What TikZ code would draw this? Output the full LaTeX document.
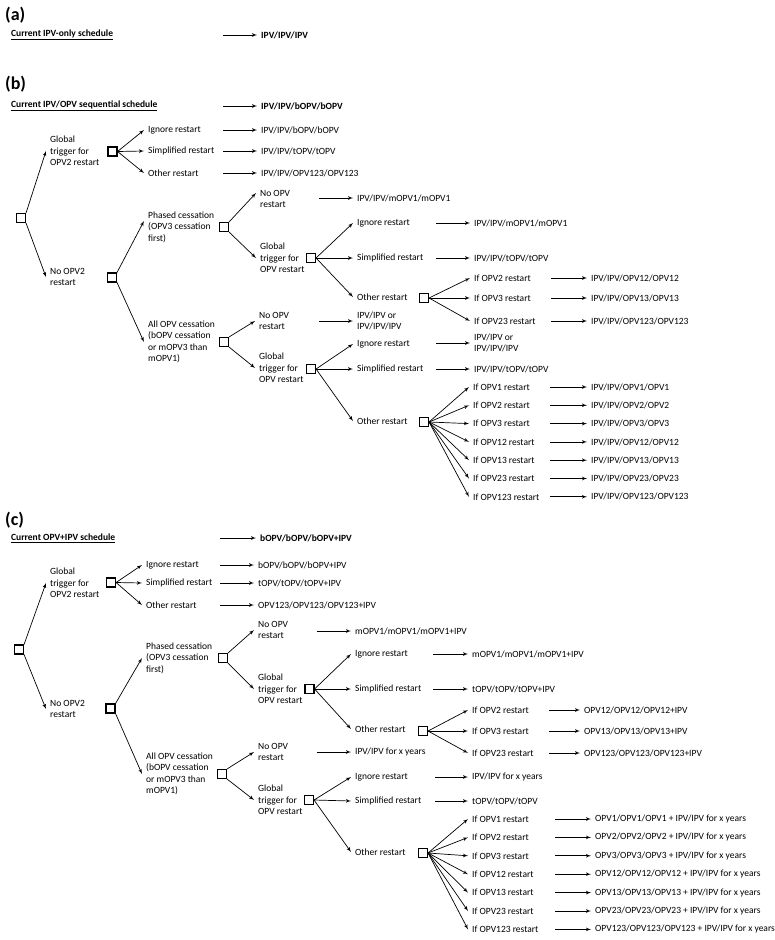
\documentclass[tikz,border=0pt]{standalone}
\usepackage{fontspec}
\setmainfont{Carlito}
\usepackage{tikz}
\usetikzlibrary{arrows}
\tikzstyle{line} = [draw, -latex', line width=0.7pt]
\tikzstyle{choice} = [rectangle, draw, minimum size=9pt, inner sep=0pt, line width=1.1pt]
\tikzstyle{lbl} = [anchor=west, align=left, inner xsep=4pt, inner ysep=1pt, font=\fontsize{9.5}{11.5}\selectfont]
\tikzstyle{head} = [lbl, font=\bfseries\fontsize{9.5}{11.5}\selectfont]
\tikzstyle{part} = [anchor=west, inner sep=0pt, font=\bfseries\fontsize{18}{18}\selectfont]

\begin{document}
\begin{tikzpicture}[x=1pt, y=-1pt]
			\useasboundingbox (0,0) rectangle (775,940);

			\node [part] (a_tag) at (5,15) {(a)};
			\node [head] (a_cur) at (7,35) {\underline{Current IPV-only schedule}};
			\node [head] (a_cur_r) at (257,35) {IPV/IPV/IPV};
			\path [line] ([xshift=-34pt]a_cur_r.west) to (a_cur_r.west);

			\node [part] (b_tag) at (5,84) {(b)};
			\node [head] (b_cur) at (7,106) {\underline{Current IPV/OPV sequential schedule}};
			\node [head] (b_cur_r) at (257,106) {IPV/IPV/bOPV/bOPV};
			\path [line] ([xshift=-34pt]b_cur_r.west) to (b_cur_r.west);

			\node [choice] (b_root) at (21,218) {};
			\node [lbl] (b_gt) at (46,151) {Global\\trigger for\\OPV2 restart};
			\node [choice] (b_gt_box) at (112.5,151.5) {};
			\node [lbl] (b_no2) at (46,277) {No OPV2\\restart};
			\node [choice] (b_no2_box) at (112,277.5) {};
			\path [line] (b_root.north east) to (b_gt.west);
			\path [line] (b_root.south east) to (b_no2.west);

			\node [lbl] (b_ign) at (144,130) {Ignore restart};
			\node [lbl] (b_sim) at (144,151) {Simplified restart};
			\node [lbl] (b_oth) at (144,173) {Other restart};
			\path [line] (b_gt_box.east) to (b_ign.west);
			\path [line] (b_gt_box.east) to (b_sim.west);
			\path [line] (b_gt_box.east) to (b_oth.west);
			\node [lbl] (b_ign_r) at (257,130) {IPV/IPV/bOPV/bOPV};
			\node [lbl] (b_sim_r) at (257,151) {IPV/IPV/tOPV/tOPV};
			\node [lbl] (b_oth_r) at (257,173) {IPV/IPV/OPV123/OPV123};
			\path [line] ([xshift=-34pt]b_ign_r.west) to (b_ign_r.west);
			\path [line] ([xshift=-34pt]b_sim_r.west) to (b_sim_r.west);
			\path [line] ([xshift=-34pt]b_oth_r.west) to (b_oth_r.west);

			\node [lbl] (b_ph) at (144,227) {Phased cessation\\(OPV3 cessation\\first)};
			\node [choice] (b_ph_box) at (224,227) {};
			\path [line] (b_no2_box.north east) to ([yshift=6pt]b_ph.west);
			\node [lbl] (b_ph_no) at (256,199) {No OPV\\restart};
			\node [lbl] (b_ph_no_r) at (353,198) {IPV/IPV/mOPV1/mOPV1};
			\node [lbl] (b_ph_gt) at (256,258) {Global\\trigger for\\OPV restart};
			\node [choice] (b_ph_gt_box) at (311,258) {};
			\path [line] (b_ph_box.north east) to ([yshift=6pt]b_ph_no.west);
			\path [line] (b_ph_box.south east) to (b_ph_gt.west);
			\path [line] ([xshift=-34pt]b_ph_no_r.west) to (b_ph_no_r.west);

			\node [lbl] (b_ph_ign) at (353,223) {Ignore restart};
			\node [lbl] (b_ph_sim) at (353,258) {Simplified restart};
			\node [lbl] (b_ph_oth) at (353,297) {Other restart};
			\node [choice] (b_ph_oth_box) at (424,298) {};
			\path [line] (b_ph_gt_box.east) to (b_ph_ign.west);
			\path [line] (b_ph_gt_box.east) to (b_ph_sim.west);
			\path [line] (b_ph_gt_box.east) to (b_ph_oth.west);
			\node [lbl] (b_ph_ign_r) at (470,223) {IPV/IPV/mOPV1/mOPV1};
			\node [lbl] (b_ph_sim_r) at (470,258) {IPV/IPV/tOPV/tOPV};
			\path [line] ([xshift=-34pt]b_ph_ign_r.west) to (b_ph_ign_r.west);
			\path [line] ([xshift=-34pt]b_ph_sim_r.west) to (b_ph_sim_r.west);

			\node [lbl] (b_ph_if2) at (470,278) {If OPV2 restart};
			\node [lbl] (b_ph_if3) at (470,298) {If OPV3 restart};
			\node [lbl] (b_ph_if23) at (470,321) {If OPV23 restart};
			\path [line] (b_ph_oth_box.east) to (b_ph_if2.west);
			\path [line] (b_ph_oth_box.east) to (b_ph_if3.west);
			\path [line] (b_ph_oth_box.east) to (b_ph_if23.west);
			\node [lbl] (b_ph_if2_r) at (587,278) {IPV/IPV/OPV12/OPV12};
			\node [lbl] (b_ph_if3_r) at (587,298) {IPV/IPV/OPV13/OPV13};
			\node [lbl] (b_ph_if23_r) at (587,321) {IPV/IPV/OPV123/OPV123};
			\path [line] ([xshift=-36pt]b_ph_if2_r.west) to (b_ph_if2_r.west);
			\path [line] ([xshift=-36pt]b_ph_if3_r.west) to (b_ph_if3_r.west);
			\path [line] ([xshift=-36pt]b_ph_if23_r.west) to (b_ph_if23_r.west);

			\node [lbl] (b_all) at (144,342) {All OPV cessation\\(bOPV cessation\\or mOPV3 than\\mOPV1)};
			\node [choice] (b_all_box) at (224,342) {};
			\path [line] (b_no2_box.south east) to (b_all.west);
			\node [lbl] (b_all_no) at (255,321) {No OPV\\restart};
			\node [lbl] (b_all_no_r) at (353,321) {IPV/IPV or\\IPV/IPV/IPV};
			\node [lbl] (b_all_gt) at (255,368) {Global\\trigger for\\OPV restart};
			\node [choice] (b_all_gt_box) at (311,369) {};
			\path [line] (b_all_box.north east) to (b_all_no.west);
			\path [line] (b_all_box.south east) to (b_all_gt.west);
			\path [line] ([xshift=-34pt]b_all_no_r.west) to (b_all_no_r.west);

			\node [lbl] (b_all_ign) at (353,344) {Ignore restart};
			\node [lbl] (b_all_sim) at (353,369) {Simplified restart};
			\node [lbl] (b_all_oth) at (353,421) {Other restart};
			\node [choice] (b_all_oth_box) at (424,422) {};
			\path [line] (b_all_gt_box.east) to (b_all_ign.west);
			\path [line] (b_all_gt_box.east) to (b_all_sim.west);
			\path [line] (b_all_gt_box.east) to (b_all_oth.west);
			\node [lbl] (b_all_ign_r) at (470,343) {IPV/IPV or\\IPV/IPV/IPV};
			\node [lbl] (b_all_sim_r) at (470,369) {IPV/IPV/tOPV/tOPV};
			\path [line] ([xshift=-34pt]b_all_ign_r.west) to (b_all_ign_r.west);
			\path [line] ([xshift=-34pt]b_all_sim_r.west) to (b_all_sim_r.west);

			\node [lbl] (b_if1) at (469,387) {If OPV1 restart};
			\node [lbl] (b_if2) at (469,405.3) {If OPV2 restart};
			\node [lbl] (b_if3) at (469,423.6) {If OPV3 restart};
			\node [lbl] (b_if12) at (469,441.9) {If OPV12 restart};
			\node [lbl] (b_if13) at (469,460.2) {If OPV13 restart};
			\node [lbl] (b_if23) at (469,478.5) {If OPV23 restart};
			\node [lbl] (b_if123) at (469,496.8) {If OPV123 restart};
			\path [line] (b_all_oth_box.east) to (b_if1.west);
			\path [line] (b_all_oth_box.east) to (b_if2.west);
			\path [line] (b_all_oth_box.east) to (b_if3.west);
			\path [line] (b_all_oth_box.east) to (b_if12.west);
			\path [line] (b_all_oth_box.east) to (b_if13.west);
			\path [line] (b_all_oth_box.east) to (b_if23.west);
			\path [line] (b_all_oth_box.east) to (b_if123.west);
			\node [lbl] (b_if1_r) at (587,387) {IPV/IPV/OPV1/OPV1};
			\node [lbl] (b_if2_r) at (587,405.3) {IPV/IPV/OPV2/OPV2};
			\node [lbl] (b_if3_r) at (587,423.6) {IPV/IPV/OPV3/OPV3};
			\node [lbl] (b_if12_r) at (587,441.9) {IPV/IPV/OPV12/OPV12};
			\node [lbl] (b_if13_r) at (587,460.2) {IPV/IPV/OPV13/OPV13};
			\node [lbl] (b_if23_r) at (587,478.5) {IPV/IPV/OPV23/OPV23};
			\node [lbl] (b_if123_r) at (587,496.8) {IPV/IPV/OPV123/OPV123};
			\path [line] ([xshift=-37pt]b_if1_r.west) to (b_if1_r.west);
			\path [line] ([xshift=-37pt]b_if2_r.west) to (b_if2_r.west);
			\path [line] ([xshift=-37pt]b_if3_r.west) to (b_if3_r.west);
			\path [line] ([xshift=-37pt]b_if12_r.west) to (b_if12_r.west);
			\path [line] ([xshift=-37pt]b_if13_r.west) to (b_if13_r.west);
			\path [line] ([xshift=-37pt]b_if23_r.west) to (b_if23_r.west);
			\path [line] ([xshift=-37pt]b_if123_r.west) to (b_if123_r.west);

			\node [part] (c_tag) at (5,520) {(c)};
			\node [head] (c_cur) at (7,538) {\underline{Current OPV+IPV schedule}};
			\node [head] (c_cur_r) at (256,538) {bOPV/bOPV/bOPV+IPV};
			\path [line] ([xshift=-36pt]c_cur_r.west) to (c_cur_r.west);

			\node [choice] (c_root) at (19,649.5) {};
			\node [lbl] (c_gt) at (46,583) {Global\\trigger for\\OPV2 restart};
			\node [choice] (c_gt_box) at (111,582.5) {};
			\node [lbl] (c_no2) at (46,709) {No OPV2\\restart};
			\node [choice] (c_no2_box) at (110.5,708.5) {};
			\path [line] (c_root.north east) to (c_gt.west);
			\path [line] (c_root.south east) to (c_no2.west);

			\node [lbl] (c_ign) at (142,565) {Ignore restart};
			\node [lbl] (c_sim) at (142,583) {Simplified restart};
			\node [lbl] (c_oth) at (142,605) {Other restart};
			\path [line] (c_gt_box.east) to (c_ign.west);
			\path [line] (c_gt_box.east) to (c_sim.west);
			\path [line] (c_gt_box.east) to (c_oth.west);
			\node [lbl] (c_ign_r) at (254,565) {bOPV/bOPV/bOPV+IPV};
			\node [lbl] (c_sim_r) at (254,583) {tOPV/tOPV/tOPV+IPV};
			\node [lbl] (c_oth_r) at (254,605) {OPV123/OPV123/OPV123+IPV};
			\path [line] ([xshift=-34pt]c_ign_r.west) to (c_ign_r.west);
			\path [line] ([xshift=-34pt]c_sim_r.west) to (c_sim_r.west);
			\path [line] ([xshift=-34pt]c_oth_r.west) to (c_oth_r.west);

			\node [lbl] (c_ph) at (142,658) {Phased cessation\\(OPV3 cessation\\first)};
			\node [choice] (c_ph_box) at (223,658) {};
			\path [line] (c_no2_box.north east) to (c_ph.west);
			\node [lbl] (c_ph_no) at (254,630) {No OPV\\restart};
			\node [lbl] (c_ph_no_r) at (351,631) {mOPV1/mOPV1/mOPV1+IPV};
			\node [lbl] (c_ph_gt) at (254,689) {Global\\trigger for\\OPV restart};
			\node [choice] (c_ph_gt_box) at (309.5,689) {};
			\path [line] (c_ph_box.north east) to (c_ph_no.west);
			\path [line] (c_ph_box.south east) to (c_ph_gt.west);
			\path [line] ([xshift=-34pt]c_ph_no_r.west) to (c_ph_no_r.west);

			\node [lbl] (c_ph_ign) at (351,654) {Ignore restart};
			\node [lbl] (c_ph_sim) at (351,689) {Simplified restart};
			\node [lbl] (c_ph_oth) at (351,729) {Other restart};
			\node [choice] (c_ph_oth_box) at (423,731) {};
			\path [line] (c_ph_gt_box.east) to (c_ph_ign.west);
			\path [line] (c_ph_gt_box.east) to (c_ph_sim.west);
			\path [line] (c_ph_gt_box.east) to (c_ph_oth.west);
			\node [lbl] (c_ph_ign_r) at (468,654) {mOPV1/mOPV1/mOPV1+IPV};
			\node [lbl] (c_ph_sim_r) at (468,689) {tOPV/tOPV/tOPV+IPV};
			\path [line] ([xshift=-35pt]c_ph_ign_r.west) to (c_ph_ign_r.west);
			\path [line] ([xshift=-35pt]c_ph_sim_r.west) to (c_ph_sim_r.west);

			\node [lbl] (c_ph_if2) at (468,710) {If OPV2 restart};
			\node [lbl] (c_ph_if3) at (468,731) {If OPV3 restart};
			\node [lbl] (c_ph_if23) at (468,753) {If OPV23 restart};
			\path [line] (c_ph_oth_box.east) to (c_ph_if2.west);
			\path [line] (c_ph_oth_box.east) to (c_ph_if3.west);
			\path [line] (c_ph_oth_box.east) to (c_ph_if23.west);
			\node [lbl] (c_ph_if2_r) at (580,710) {OPV12/OPV12/OPV12+IPV};
			\node [lbl] (c_ph_if3_r) at (580,731) {OPV13/OPV13/OPV13+IPV};
			\node [lbl] (c_ph_if23_r) at (580,753) {OPV123/OPV123/OPV123+IPV};
			\path [line] ([xshift=-31pt]c_ph_if2_r.west) to (c_ph_if2_r.west);
			\path [line] ([xshift=-31pt]c_ph_if3_r.west) to (c_ph_if3_r.west);
			\path [line] ([xshift=-31pt]c_ph_if23_r.west) to (c_ph_if23_r.west);

			\node [lbl] (c_all) at (142,774) {All OPV cessation\\(bOPV cessation\\or mOPV3 than\\mOPV1)};
			\node [choice] (c_all_box) at (222,774) {};
			\path [line] (c_no2_box.south east) to (c_all.west);
			\node [lbl] (c_all_no) at (254,752) {No OPV\\restart};
			\node [lbl] (c_all_no_r) at (351,752) {IPV/IPV for x years};
			\node [lbl] (c_all_gt) at (254,800) {Global\\trigger for\\OPV restart};
			\node [choice] (c_all_gt_box) at (309,800) {};
			\path [line] (c_all_box.north east) to (c_all_no.west);
			\path [line] (c_all_box.south east) to (c_all_gt.west);
			\path [line] ([xshift=-34pt]c_all_no_r.west) to (c_all_no_r.west);

			\node [lbl] (c_all_ign) at (351,777) {Ignore restart};
			\node [lbl] (c_all_sim) at (351,801) {Simplified restart};
			\node [lbl] (c_all_oth) at (351,852) {Other restart};
			\node [choice] (c_all_oth_box) at (423,853) {};
			\path [line] (c_all_gt_box.east) to (c_all_ign.west);
			\path [line] (c_all_gt_box.east) to (c_all_sim.west);
			\path [line] (c_all_gt_box.east) to (c_all_oth.west);
			\node [lbl] (c_all_ign_r) at (468,777) {IPV/IPV for x years};
			\node [lbl] (c_all_sim_r) at (468,801) {tOPV/tOPV/tOPV};
			\path [line] ([xshift=-33pt]c_all_ign_r.west) to (c_all_ign_r.west);
			\path [line] ([xshift=-33pt]c_all_sim_r.west) to (c_all_sim_r.west);

			\node [lbl] (c_if1) at (468,819) {If OPV1 restart};
			\node [lbl] (c_if2) at (468,837.4) {If OPV2 restart};
			\node [lbl] (c_if3) at (468,855.8) {If OPV3 restart};
			\node [lbl] (c_if12) at (468,874.2) {If OPV12 restart};
			\node [lbl] (c_if13) at (468,892.6) {If OPV13 restart};
			\node [lbl] (c_if23) at (468,911) {If OPV23 restart};
			\node [lbl] (c_if123) at (468,929.4) {If OPV123 restart};
			\path [line] (c_all_oth_box.east) to (c_if1.west);
			\path [line] (c_all_oth_box.east) to (c_if2.west);
			\path [line] (c_all_oth_box.east) to (c_if3.west);
			\path [line] (c_all_oth_box.east) to (c_if12.west);
			\path [line] (c_all_oth_box.east) to (c_if13.west);
			\path [line] (c_all_oth_box.east) to (c_if23.west);
			\path [line] (c_all_oth_box.east) to (c_if123.west);
			\node [lbl] (c_if1_r) at (591,819) {OPV1/OPV1/OPV1 + IPV/IPV for x years};
			\node [lbl] (c_if2_r) at (591,837.4) {OPV2/OPV2/OPV2 + IPV/IPV for x years};
			\node [lbl] (c_if3_r) at (591,855.8) {OPV3/OPV3/OPV3 + IPV/IPV for x years};
			\node [lbl] (c_if12_r) at (591,874.2) {OPV12/OPV12/OPV12 + IPV/IPV for x years};
			\node [lbl] (c_if13_r) at (591,892.6) {OPV13/OPV13/OPV13 + IPV/IPV for x years};
			\node [lbl] (c_if23_r) at (591,911) {OPV23/OPV23/OPV23 + IPV/IPV for x years};
			\node [lbl] (c_if123_r) at (591,929.4) {OPV123/OPV123/OPV123 + IPV/IPV for x years};
			\path [line] ([xshift=-36pt]c_if1_r.west) to (c_if1_r.west);
			\path [line] ([xshift=-36pt]c_if2_r.west) to (c_if2_r.west);
			\path [line] ([xshift=-36pt]c_if3_r.west) to (c_if3_r.west);
			\path [line] ([xshift=-36pt]c_if12_r.west) to (c_if12_r.west);
			\path [line] ([xshift=-36pt]c_if13_r.west) to (c_if13_r.west);
			\path [line] ([xshift=-36pt]c_if23_r.west) to (c_if23_r.west);
			\path [line] ([xshift=-36pt]c_if123_r.west) to (c_if123_r.west);
		\end{tikzpicture}
\end{document}
